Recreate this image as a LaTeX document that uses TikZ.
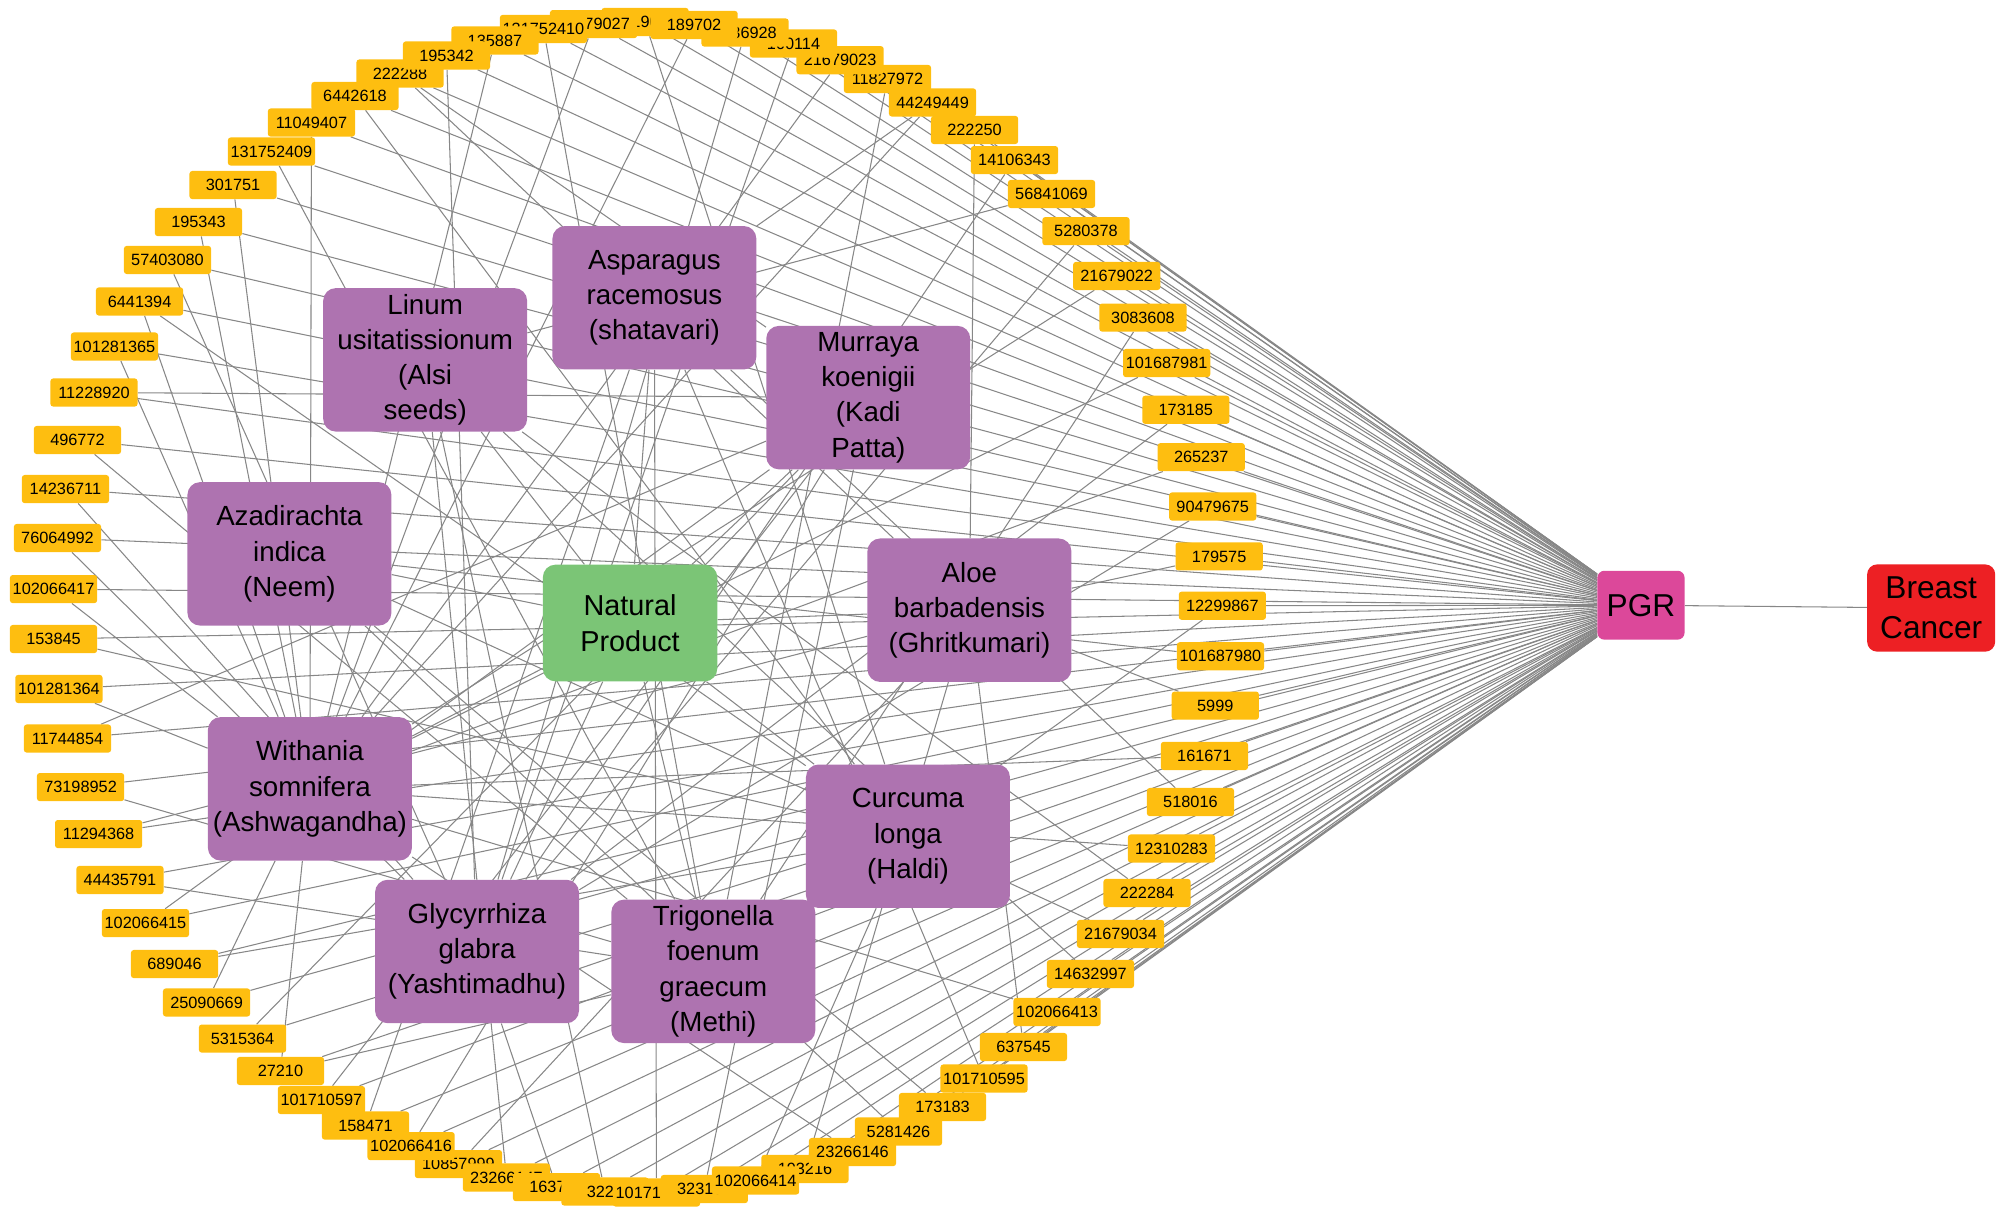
\documentclass[tikz,border=0pt]{standalone}
\usepackage{fontspec}
\setmainfont{Liberation Sans}
\usetikzlibrary{backgrounds}

\definecolor{cpdcol}{HTML}{FEBE10}
\definecolor{plantcol}{HTML}{AE73B0}
\definecolor{natcol}{HTML}{7BC576}
\definecolor{genecol}{HTML}{DC489A}
\definecolor{diseasecol}{HTML}{ED2024}
\definecolor{linkcol}{HTML}{878787}

% compounds: id / x / y (drawing order matters where boxes overlap)
\def\cpdlist{11827972/693/61.7, 44249449/728.2/80, 222250/761/101.5,
14106343/792.2/125, 56841069/821.1/151.5, 5280378/848/180.5,
21679022/872/215.5, 3083608/892.5/248, 101687981/911/283.5,
173185/926/320, 265237/938/357, 90479675/947/395.5, 179575/952/434.5,
12299867/954.5/473, 101687980/953/512.5, 5999/949/551,
161671/940.5/590.3, 518016/929.6/626.3, 12310283/914.8/662.6,
222284/895.7/697.3, 21679034/875/729.3, 14632997/851.5/760.6,
102066413/825.4/790.2, 637545/799.2/817.6, 101710595/768.4/842.2,
173183/736/864.4, 5281426/701.6/883.6,
10857999/358/909, 102066416/321/895, 23266147/395.5/919.5,
163729/434.6/927, 3229/472.4/930.4, 101710596/512.6/931.2,
323197/550/928.5, 193216/628.6/912.8, 102066414/590/921.8,
23266146/665.7/899.6,
158471/285.4/878.9, 101710597/251/859, 27210/219/836.3,
5315364/189.4/811, 25090669/161.3/782.8, 689046/136.3/752.8,
102066415/113.6/720.8, 44435791/93.7/687.2, 11294368/77/651.3,
73198952/62.9/614.6, 11744854/52.7/576.7, 101281364/46/538,
153845/41.8/499, 102066417/41.8/460, 76064992/44.9/420.1,
14236711/51.1/381.9, 496772/60.5/343.6, 11228920/73.4/306.5,
101281365/89.4/270.6, 6441394/109/235.4, 57403080/130.8/203,
195343/155/173.4, 301751/182/144.5, 131752409/212/118.3,
11049407/243.2/95.7, 6442618/277.2/75, 222288/312.4/57.4,
5319077/503.7/17.2, 21679027/463.5/18.8, 131752410/424.4/22.6,
135887/386.5/31.6, 195342/348.7/43.3,
21679023/656/47, 160114/619.6/34, 5336928/581.8/25.4, 189702/542/19.5}

\begin{document}
\begin{tikzpicture}[x=0.032cm, y=-0.032cm,
  box/.style={rounded corners=9pt, inner sep=0pt, align=center},
  cpd/.style={fill=cpdcol, rounded corners=2pt, minimum width=62pt,
    minimum height=20pt, inner sep=1pt, font=\fontsize{11.6}{13}\selectfont},
  plant/.style={box, fill=plantcol, minimum width=145pt, minimum height=102pt,
    font=\fontsize{19.7}{25}\selectfont},
  natprod/.style={box, fill=natcol, minimum width=124pt, minimum height=83pt,
    font=\fontsize{20.5}{26}\selectfont},
  gene/.style={box, fill=genecol, rounded corners=5pt, minimum width=62pt,
    minimum height=49pt, font=\fontsize{22.5}{28}\selectfont},
  disease/.style={box, fill=diseasecol, rounded corners=7pt, minimum width=91pt,
    minimum height=62pt, font=\fontsize{22.5}{28.4}\selectfont},
  link/.style={draw=linkcol, line width=0.75pt}]

\useasboundingbox (0,0) rectangle (1568,950);

% plants
\node[plant] (lin) at (332,281)   {Linum\\usitatissionum\\(Alsi\\seeds)};
\node[plant] (asp) at (511,232.5) {Asparagus\\racemosus\\(shatavari)};
\node[plant] (mur) at (678,310.5) {Murraya\\koenigii\\(Kadi\\Patta)};
\node[plant] (aza) at (226,432.5) {Azadirachta\\indica\\(Neem)};
\node[plant] (alo) at (757,476.5) {Aloe\\barbadensis\\(Ghritkumari)};
\node[plant] (wit) at (242,616)   {Withania\\somnifera\\(Ashwagandha)};
\node[plant] (cur) at (709,653)   {Curcuma\\longa\\(Haldi)};
\node[plant] (gly) at (372.5,743) {Glycyrrhiza\\glabra\\(Yashtimadhu)};
\node[plant] (tri) at (557,758.5) {Trigonella\\foenum\\graecum\\(Methi)};

\node[natprod] (np) at (492,486.5) {Natural\\Product};
\node[gene] (pgr) at (1281.4,472.6) {PGR};
\node[disease] (bc) at (1508,474.8) {Breast\\Cancer};

% compounds
\foreach \id/\x/\y in \cpdlist
  \node[cpd] (c\id) at (\x,\y) {\id};

\begin{pgfonlayer}{background}
% compound -- target
\foreach \id/\x/\y in \cpdlist
  \draw[link] (c\id) -- (pgr);
% compound -- plant
\foreach \id/\p in {11827972/tri, 44249449/wit, 44249449/asp, 222250/alo,
  14106343/gly, 56841069/lin, 5280378/gly, 21679022/wit, 3083608/tri,
  101687981/wit, 173185/gly, 265237/wit, 90479675/gly, 179575/alo,
  12299867/tri, 101687980/aza, 5999/alo, 161671/wit, 518016/asp,
  12310283/wit, 222284/lin, 21679034/aza, 14632997/lin, 102066413/wit,
  637545/alo, 101710595/asp, 173183/aza, 5281426/aza, 23266146/wit,
  193216/alo, 102066414/cur, 323197/mur, 101710596/asp, 3229/lin,
  163729/gly, 23266147/lin, 10857999/alo, 102066416/mur, 158471/asp,
  101710597/mur, 27210/wit, 27210/tri, 5315364/mur, 25090669/wit,
  689046/cur, 102066415/mur, 44435791/tri, 11294368/alo, 73198952/tri,
  11744854/mur, 101281364/wit, 153845/cur, 102066417/wit, 76064992/gly,
  14236711/gly, 496772/tri, 11228920/mur, 101281365/wit, 6441394/cur,
  6441394/wit, 57403080/gly, 195343/wit, 301751/wit, 131752409/tri,
  11049407/wit, 6442618/cur, 222288/alo, 222288/mur, 195342/gly,
  135887/wit, 131752410/tri, 21679027/wit, 5319077/cur, 189702/wit,
  5336928/gly, 160114/gly, 21679023/wit}
  \draw[link] (c\id) -- (\p);
% natural product -- plants
\foreach \p in {lin,asp,mur,aza,alo,wit,cur,gly,tri}
  \draw[link] (np) -- (\p);
\draw[link] (pgr) -- (bc);
\end{pgfonlayer}

\end{tikzpicture}
\end{document}
